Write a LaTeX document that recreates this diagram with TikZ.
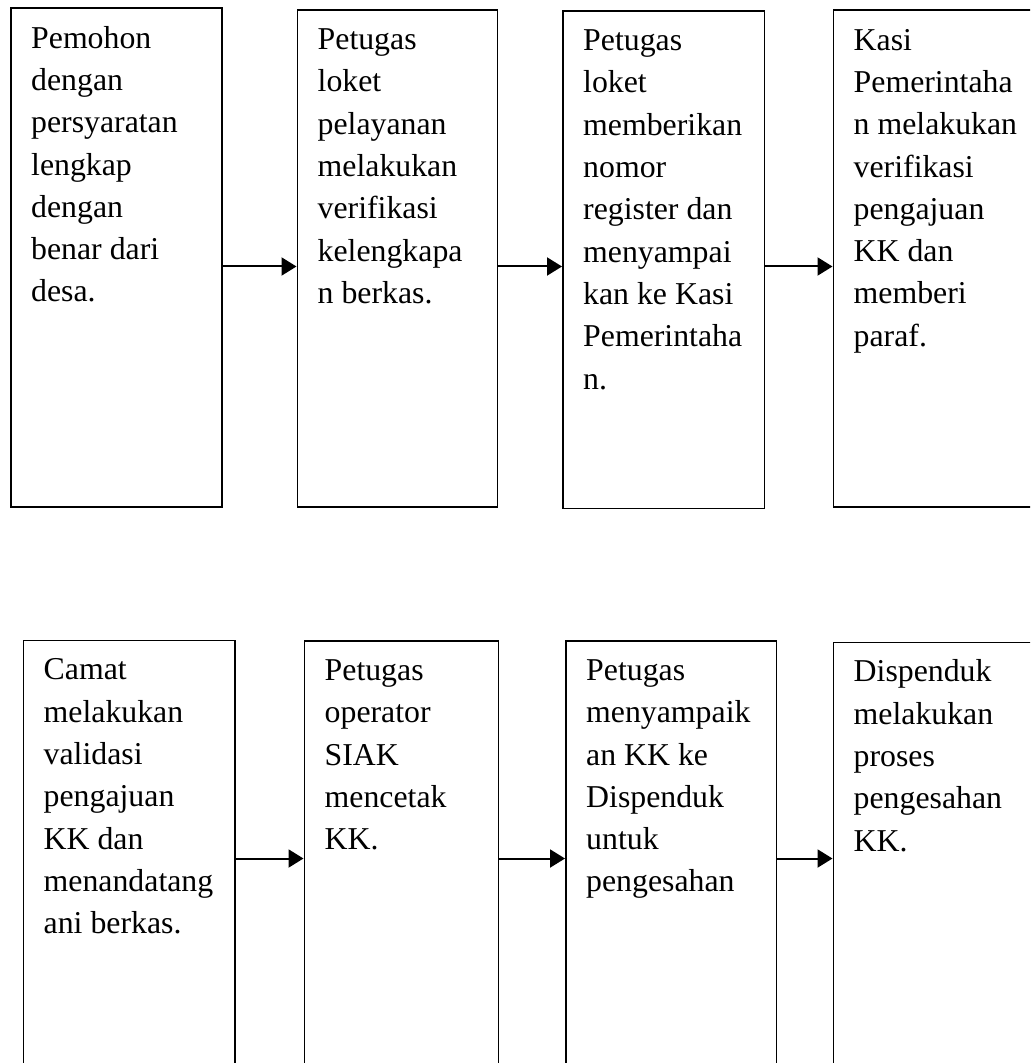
\documentclass[tikz,border=0pt]{standalone}
\usepackage{fontspec}
\setmainfont{Liberation Serif}
\usepackage{tikz}
\usetikzlibrary{
        arrows.meta,
        positioning
    }
\tikzset{>={Triangle[length=7.5pt,width=9pt]},auto}
\tikzset{box/.style={draw,rectangle,line width=0.9pt,inner sep=0pt,anchor=north west}}
\tikzset{txt/.style={inner sep=0pt,align=left,font=\fontsize{15.9}{21.15}\selectfont}}
\tikzset{flow/.style={->,line width=1pt}}

\begin{document}
\begin{tikzpicture}[x=0.5pt,y=-0.5pt]
                    \useasboundingbox (0,0) rectangle (1030,1063);
                    \clip (0,0) rectangle (1030,1063);
                    % baris atas
                    \node[box,minimum width=105.5pt,minimum height=249.25pt] (b1) at (10,7.5) {};
                    \node[box,minimum width=100pt,minimum height=248.5pt] (b2) at (296.5,9) {};
                    \node[box,minimum width=100.75pt,minimum height=248.75pt] (b3) at (562,10) {};
                    \node[box,minimum width=130pt,minimum height=248.25pt] (b4) at (832.5,9.5) {};
                    % baris bawah
                    \node[box,minimum width=105.75pt,minimum height=250pt] (b5) at (22.5,639.5) {};
                    \node[box,minimum width=97pt,minimum height=250pt] (b6) at (303.5,640) {};
                    \node[box,minimum width=105.25pt,minimum height=250pt] (b7) at (565,640) {};
                    \node[box,minimum width=130pt,minimum height=250pt] (b8) at (832.5,641.5) {};
                    \coordinate (r1) at (0,266.5);
                    \coordinate (r2) at (0,858.5);
                    \node[txt] (t1) [below right=5.3pt and 10.4pt of b1.north west] {\strut Pemohon\\dengan\\persyaratan\\lengkap\\dengan\\benar dari\\desa.};
                    \node[txt] (t2) [below right=5.3pt and 10.4pt of b2.north west] {\strut Petugas\\loket\\pelayanan\\melakukan\\verifikasi\\kelengkapa\\n berkas.};
                    \node[txt] (t3) [below right=5.3pt and 10.4pt of b3.north west] {\strut Petugas\\loket\\memberikan\\nomor\\register dan\\menyampai\\kan ke Kasi\\Pemerintaha\\n.};
                    \node[txt] (t4) [below right=5.3pt and 10.4pt of b4.north west] {\strut Kasi\\Pemerintaha\\n melakukan\\verifikasi\\pengajuan\\KK dan\\memberi\\paraf.};
                    \node[txt] (t5) [below right=5.2pt and 10.4pt of b5.north west] {\strut Camat\\melakukan\\validasi\\pengajuan\\KK dan\\menandatang\\ani berkas.};
                    \node[txt] (t6) [below right=5.2pt and 10.4pt of b6.north west] {\strut Petugas\\operator\\SIAK\\mencetak\\KK.};
                    \node[txt] (t7) [below right=5.2pt and 10.4pt of b7.north west] {\strut Petugas\\menyampaik\\an KK ke\\Dispenduk\\untuk\\pengesahan};
                    \node[txt] (t8) [below right=5.2pt and 10.4pt of b8.north west] {\strut Dispenduk\\melakukan\\proses\\pengesahan\\KK.};
                    \path[flow]
                        (b1.east |- r1)  edge  (b2.west |- r1)
                        (b2.east |- r1)  edge  (b3.west |- r1)
                        (b3.east |- r1)  edge  (b4.west |- r1)
                        (b5.east |- r2)  edge  (b6.west |- r2)
                        (b6.east |- r2)  edge  (b7.west |- r2)
                        (b7.east |- r2)  edge  (b8.west |- r2)
                    ;
                \end{tikzpicture}
\end{document}
